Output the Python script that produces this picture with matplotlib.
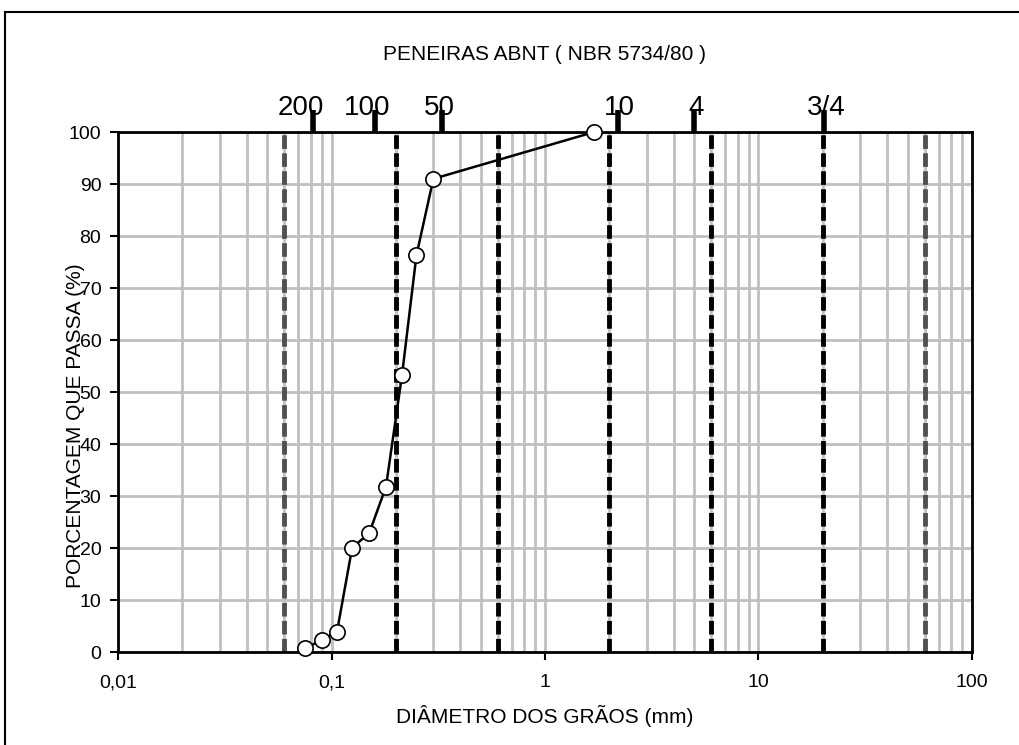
import matplotlib.pyplot as plt
import matplotlib.patches as patches
import matplotlib.transforms as mtransforms
from matplotlib.ticker import FixedLocator, FixedFormatter, NullLocator, NullFormatter

plt.rcParams['font.family'] = ['Liberation Sans', 'DejaVu Sans']

# grain size curve
diametro = [0.075, 0.09, 0.106, 0.125, 0.15, 0.18, 0.214, 0.25, 0.30, 1.70]
passa = [0.7, 2.3, 3.8, 20.1, 22.8, 31.8, 53.3, 76.3, 91.0, 100.0]

# ABNT sieves (top axis)
peneiras = ['200', '100', '50', '10', '4', '3/4']
abertura = [0.082, 0.16, 0.33, 2.2, 5.0, 20.3]
# small horizontal shift of the sieve labels (pixels)
desloc_rotulo = [-12, -8, -3, 1, 2, 2]

# fraction limits
limites_pretos = [0.2, 0.6, 2.0, 6.0, 20.0]
limites_cinza = [0.06, 60.0]

x_ticks = [0.01, 0.1, 1, 10, 100]
x_labels = ['0,01', '0,1', '1', '10', '100']

fig = plt.figure(figsize=(10.2, 7.45), dpi=100)
ax = fig.add_axes([0.1157, 0.1248, 0.8372, 0.698])

# outer frame
fig.patches.append(patches.Rectangle((0.005, -0.1), 1.2, 1.084, transform=fig.transFigure,
                                     fill=False, edgecolor='black', linewidth=1.5))

ax.set_xscale('log')
ax.set_xlim(0.01, 100)
ax.set_ylim(0, 100)

ax.grid(True, which='both', axis='x', color='#c0c0c0', linewidth=2)
ax.grid(True, which='major', axis='y', color='#c0c0c0', linewidth=2)
ax.set_axisbelow(True)

for xv in limites_pretos:
    ax.axvline(xv, color='black', linewidth=3.5, linestyle=(0, (2.8, 0.9)), zorder=2)
for xv in limites_cinza:
    ax.axvline(xv, color='#505050', linewidth=3.5, linestyle=(0, (2.8, 0.9)), zorder=2)

ax.plot(diametro, passa, color='black', linewidth=1.8, marker='o', markersize=11,
        markerfacecolor='white', markeredgecolor='black', markeredgewidth=1.2,
        zorder=5, clip_on=False)

ax.xaxis.set_major_locator(FixedLocator(x_ticks))
ax.xaxis.set_major_formatter(FixedFormatter(x_labels))
ax.xaxis.set_minor_formatter(NullFormatter())
ax.tick_params(axis='x', which='minor', length=0)
ax.tick_params(axis='x', which='major', length=6, width=1.5, labelsize=14, pad=10)
ax.set_yticks(range(0, 101, 10))
ax.tick_params(axis='y', length=6, width=1.5, labelsize=14, pad=6)

for s in ['left', 'right', 'bottom', 'top']:
    ax.spines[s].set_linewidth(2)

ax.set_xlabel('DIÂMETRO DOS GRÃOS (mm)', fontsize=15, labelpad=10)
ax.set_ylabel('PORCENTAGEM QUE PASSA (%)', fontsize=15)
ax.yaxis.set_label_coords(-0.039, 0.436)

ax2 = ax.twiny()
ax2.set_xscale('log')
ax2.set_xlim(ax.get_xlim())
ax2.xaxis.set_major_locator(FixedLocator(abertura))
ax2.xaxis.set_major_formatter(FixedFormatter(peneiras))
ax2.xaxis.set_minor_locator(NullLocator())
ax2.tick_params(axis='x', direction='out', length=16, width=4, labelsize=20, pad=-8)
ax2.set_xlabel('PENEIRAS ABNT ( NBR 5734/80 )', fontsize=15, labelpad=25)
for s in ax2.spines.values():
    s.set_visible(False)

fig.canvas.draw()
for lbl, dx in zip(ax2.get_xticklabels(), desloc_rotulo):
    lbl.set_transform(lbl.get_transform() + mtransforms.Affine2D().translate(dx, 0))

fig.savefig('out.png', dpi=100)
